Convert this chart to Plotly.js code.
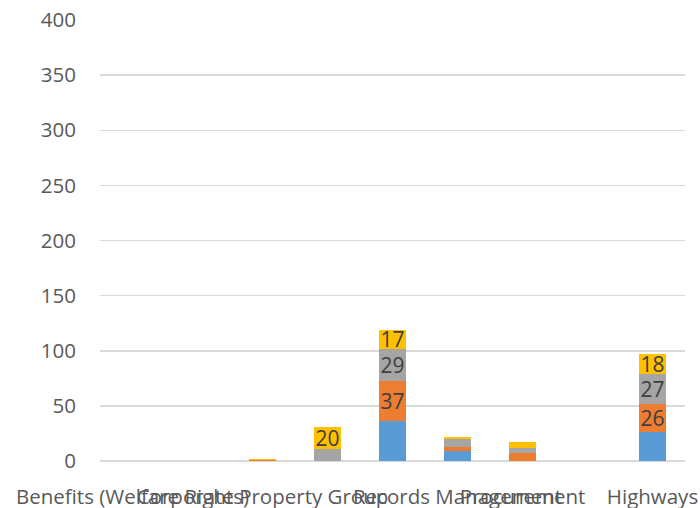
<!DOCTYPE html>
<html>
<head>
<meta charset="utf-8">
<script src="https://cdn.plot.ly/plotly-3.0.1.min.js"></script>
<style>html,body{margin:0;padding:0;background:#fff;}#chart{width:700px;height:508px;}</style>
</head>
<body>
<div id="chart"></div>
<script>
// Categories (x axis)
const categories = [
  "Benefits (Welfare Rights)",
  "Corporate",
  "Corporate Property Group",
  "Development Control",
  "Legal Services",
  "Records Management",
  "Procurement",
  "Transport",
  "Highways"
];
// Tick labels actually visible on the axis
const xTickLabels = [
  "Benefits (Welfare Rights)",
  "",
  "Corporate Property Group",
  "",
  "",
  "Records Management",
  "Procurement",
  "",
  "Highways"
];
// Series values (stacked bottom to top)
const seriesBlue   = [0, 0, 0, 0, 36, 9, 0, 0, 26];
const seriesOrange = [0, 0, 1, 0, 37, 4, 7, 0, 26];
const seriesGray   = [0, 0, 0, 11, 29, 7, 5, 0, 27];
const seriesYellow = [0, 0, 1, 20, 17, 2, 5, 0, 18];
const yTicks = [0, 50, 100, 150, 200, 250, 300, 350, 400];

const colors = ["#5B9BD5", "#ED7D31", "#A5A5A5", "#FFC000"];
const labelMin = 15;
function labelsFor(vals, show) {
  return vals.map(v => (show && v >= labelMin) ? String(v) : "");
}
const allSeries = [
  {vals: seriesBlue, showLabels: false},
  {vals: seriesOrange, showLabels: true},
  {vals: seriesGray, showLabels: true},
  {vals: seriesYellow, showLabels: true}
];
const FONT = "Open Sans, Calibri, Carlito, sans-serif";
const traces = allSeries.map((s, i) => ({
  type: "bar",
  x: categories,
  y: s.vals,
  marker: {color: colors[i], line: {width: 0}},
  text: labelsFor(s.vals, s.showLabels),
  textposition: "inside",
  insidetextanchor: "middle",
  textangle: 0,
  constraintext: "none",
  textfont: {family: FONT, size: 21, color: "#404040"},
  hoverinfo: "x+y",
  showlegend: false
}));

const layout = {
  width: 700,
  height: 508,
  margin: {l: 100, r: 15, t: 20, b: 47},
  paper_bgcolor: "#ffffff",
  plot_bgcolor: "#ffffff",
  barmode: "stack",
  bargap: 0.585,
  showlegend: false,
  font: {family: FONT, color: "#595959", size: 20},
  xaxis: {
    type: "category",
    tickmode: "array",
    tickvals: categories,
    ticktext: xTickLabels,
    tickangle: 0,
    showgrid: false,
    showline: false,
    zeroline: false,
    ticks: "",
    ticklabelstandoff: 21,
    tickfont: {family: FONT, size: 20.5, color: "#595959"},
    fixedrange: true
  },
  yaxis: {
    range: [0, 400],
    tickmode: "array",
    tickvals: yTicks,
    ticktext: yTicks.map(String),
    showgrid: true,
    gridcolor: "#D9D9D9",
    gridwidth: 1.5,
    zeroline: true,
    zerolinecolor: "#D9D9D9",
    zerolinewidth: 1.5,
    showline: false,
    ticks: "",
    ticklabelstandoff: 23,
    tickfont: {family: FONT, size: 20.5, color: "#595959"},
    fixedrange: true
  }
};

Plotly.newPlot("chart", traces, layout, {displayModeBar: false, staticPlot: true});
</script>
</body>
</html>
